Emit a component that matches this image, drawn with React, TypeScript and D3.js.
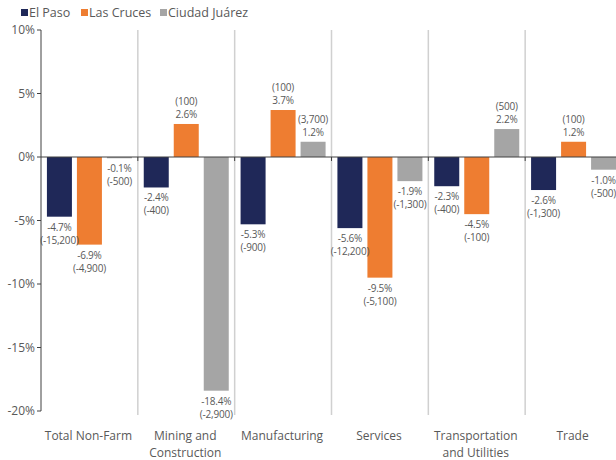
import React, { useEffect, useRef } from 'react';
import * as d3 from 'd3';

const categories = ['Total Non-Farm', 'Mining and Construction', 'Manufacturing', 'Services', 'Transportation and Utilities', 'Trade'];
const seriesNames = ['El Paso', 'Las Cruces', 'Ciudad Juárez'];
const seriesColors = ['#1f2858', '#ee7d31', '#a5a5a5'];
const elPaso = [-4.7, -2.4, -5.3, -5.6, -2.3, -2.6];
const elPasoJobs = [-15200, -400, -900, -12200, -400, -1300];
const lasCruces = [-6.9, 2.6, 3.7, -9.5, -4.5, 1.2];
const lasCrucesJobs = [-4900, 100, 100, -5100, -100, 100];
const juarez = [-0.1, -18.4, 1.2, -1.9, 2.2, -1.0];
const juarezJobs = [-500, -2900, 3700, -1300, 500, -500];
const yTicks = [10, 5, 0, -5, -10, -15, -20];

const App = () => {
    const ref = useRef<SVGSVGElement>(null);

    useEffect(() => {
        const svg = d3.select(ref.current);
        svg.selectAll('*').remove();

        const width = 616;
        const left = 41;
        const textColor = '#595959';
        const font = "'Open Sans', sans-serif";

        const y = d3.scaleLinear().domain([-20, 10]).range([411, 30]);
        const x = d3.scaleBand<string>().domain(categories).range([left, 622]);
        const barW = 25;
        const gap = 5;
        const inner = d3.scaleBand<number>().domain([0, 1, 2])
            .range([0, 3 * barW + 2 * gap]).paddingInner(gap / (barW + gap));
        const offset = (x.bandwidth() - (3 * barW + 2 * gap)) / 2;

        const values = [elPaso, lasCruces, juarez];
        const jobs = [elPasoJobs, lasCrucesJobs, juarezJobs];

        // category separators
        svg.append('g').selectAll('line')
            .data(categories.slice(1))
            .enter().append('line')
            .attr('x1', d => x(d)!).attr('x2', d => x(d)!)
            .attr('y1', 30).attr('y2', 415)
            .attr('stroke', '#d0d0d0').attr('stroke-width', 1.5);

        // bars
        const rows = categories.flatMap((c, i) => values.map((s, k) => ({
            c, k, v: s[i], j: jobs[k][i]
        })));

        svg.append('g').selectAll('rect')
            .data(rows)
            .enter().append('rect')
            .attr('x', d => x(d.c)! + offset + inner(d.k)!)
            .attr('width', inner.bandwidth())
            .attr('y', d => y(Math.max(0, d.v)))
            .attr('height', d => Math.abs(y(d.v) - y(0)))
            .attr('fill', d => seriesColors[d.k]);

        // labels
        const fmtJobs = (n: number) => (n < 0 ? '-' : '') + d3.format(',')(Math.abs(n));
        const lab = svg.append('g')
            .attr('font-family', font).attr('font-size', 10).attr('fill', textColor)
            .attr('letter-spacing', -0.2)
            .attr('text-anchor', 'middle');
        rows.forEach(d => {
            const cx = x(d.c)! + offset + inner(d.k)! + inner.bandwidth() / 2;
            const pct = (d.v < 0 ? '-' : '') + Math.abs(d.v).toFixed(1) + '%';
            const cnt = '(' + fmtJobs(d.j) + ')';
            if (d.v < 0) {
                const yb = y(d.v);
                lab.append('text').attr('x', cx).attr('y', yb + 14).text(pct);
                lab.append('text').attr('x', cx).attr('y', yb + 27).text(cnt);
            } else {
                const yt = y(d.v);
                lab.append('text').attr('x', cx).attr('y', yt - 6).text(pct);
                lab.append('text').attr('x', cx).attr('y', yt - 19).text(cnt);
            }
        });

        // zero line
        svg.append('line')
            .attr('x1', left).attr('x2', width)
            .attr('y1', y(0)).attr('y2', y(0))
            .attr('stroke', '#404040').attr('stroke-width', 1);
        svg.append('g').selectAll('line')
            .data(categories.slice(1))
            .enter().append('line')
            .attr('x1', d => x(d)!).attr('x2', d => x(d)!)
            .attr('y1', y(0)).attr('y2', y(0) + 4)
            .attr('stroke', '#404040');

        // y axis
        const yAxis = svg.append('g');
        yAxis.append('line')
            .attr('x1', left).attr('x2', left)
            .attr('y1', y(10)).attr('y2', y(-20))
            .attr('stroke', '#404040');
        yAxis.selectAll('.tk')
            .data(yTicks)
            .enter().append('line')
            .attr('x1', left - 4).attr('x2', left)
            .attr('y1', d => y(d)).attr('y2', d => y(d))
            .attr('stroke', '#404040');
        yAxis.selectAll('text')
            .data(yTicks)
            .enter().append('text')
            .attr('x', left - 6).attr('y', d => y(d))
            .attr('dy', '0.35em')
            .attr('text-anchor', 'end')
            .attr('font-family', font).attr('font-size', 12).attr('fill', textColor)
            .text(d => d + '%');

        // category labels
        const cat = svg.append('g')
            .attr('font-family', font).attr('font-size', 12).attr('fill', textColor)
            .attr('text-anchor', 'middle');
        const wrapped: Record<string, string[]> = {
            'Mining and Construction': ['Mining and', 'Construction'],
            'Transportation and Utilities': ['Transportation', 'and Utilities']
        };
        categories.forEach(c => {
            const lines = wrapped[c] || [c];
            lines.forEach((t, i) => {
                cat.append('text')
                    .attr('x', x(c)! + x.bandwidth() / 2 - 1)
                    .attr('y', 440 + i * 17)
                    .text(t);
            });
        });

        // legend
        const legX = [21, 81, 160];
        const leg = svg.append('g');
        seriesNames.forEach((n, i) => {
            leg.append('rect')
                .attr('x', legX[i]).attr('y', 9)
                .attr('width', 7).attr('height', 7)
                .attr('fill', seriesColors[i]);
            leg.append('text')
                .attr('x', legX[i] + 8).attr('y', 17)
                .attr('font-family', font).attr('font-size', 12.5).attr('fill', textColor)
                .text(n);
        });
    }, []);

    return (
        <svg ref={ref} width={616} height={460}
            style={{ position: 'absolute', left: 0, top: 0, background: '#fff' }} />
    );
};

export default App;
